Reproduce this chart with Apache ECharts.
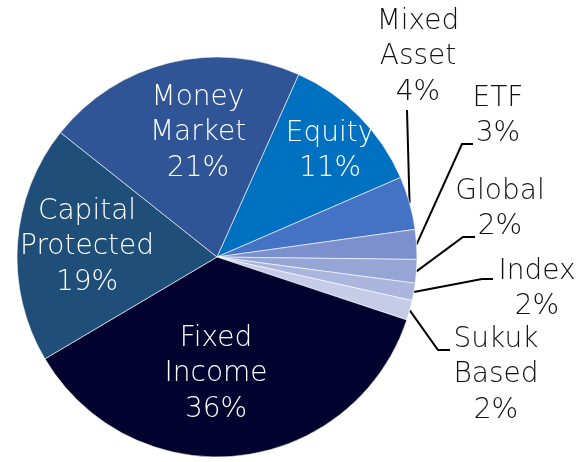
<!DOCTYPE html>
<html>
<head>
<meta charset="utf-8">
<script src="https://cdn.jsdelivr.net/npm/echarts@6/dist/echarts.min.js"></script>
<style>
  html, body { margin: 0; padding: 0; background: #fff; }
  #chart { width: 577px; height: 462px; }
</style>
</head>
<body>
<div id="chart"></div>
<script>
// fund categories, clockwise from the Money Market / Equity edge
var categories = ['Equity', 'Mixed Asset', 'ETF', 'Global', 'Index', 'Sukuk Based', 'Fixed Income', 'Capital Protected', 'Money Market'];
var shares = [11.8, 4.3, 2.4, 1.9, 1.4, 1.6, 36.4, 19.2, 21.0];
var shareLabels = ['11%', '4%', '3%', '2%', '2%', '2%', '36%', '19%', '21%'];

var colors = ['#0070C0', '#4472C4', '#7B90CC', '#94A5D6', '#AAB6DD', '#C6CCE8', '#03032F', '#1F4E79', '#2F5597'];
var outsideNames = ['Mixed Asset', 'ETF', 'Global', 'Index', 'Sukuk Based'];

// label placement (text block centre), plus leader elbow/end for outside ones
var labelPlace = {
  'Equity':            { x: 330, y: 151 },
  'Money Market':      { x: 198, y: 133 },
  'Capital Protected': { x: 87,  y: 247 },
  'Fixed Income':      { x: 216, y: 374 },
  'Mixed Asset':       { x: 418, y: 57,  line: [[407, 110], [407, 110]] },
  'ETF':               { x: 498, y: 116, line: [[462, 144], [473, 144]] },
  'Global':            { x: 500, y: 209, line: [[463, 237], [475, 237]] },
  'Index':             { x: 537, y: 289, line: [[482, 279], [493, 279]] },
  'Sukuk Based':       { x: 496, y: 375, line: [[438, 350], [450, 350]] }
};

var chart = echarts.init(document.getElementById('chart'));

var pieData = categories.map(function (name, i) {
  var outside = outsideNames.indexOf(name) >= 0;
  return {
    name: name,
    value: shares[i],
    itemStyle: { color: colors[i] },
    label: {
      position: outside ? 'outside' : 'inside',
      color: outside ? '#111' : '#fff'
    },
    labelLine: { show: outside }
  };
});

var option = {
  animation: false,
  series: [{
    type: 'pie',
    center: [217, 257],
    radius: 200,
    startAngle: 65.9,
    clockwise: true,
    avoidLabelOverlap: false,
    itemStyle: { borderColor: '#fff', borderWidth: 0.6 },
    label: {
      show: true,
      fontFamily: 'DejaVu Sans',
      fontWeight: 200,
      fontSize: 28,
      lineHeight: 35.5,
      align: 'center',
      formatter: function (p) {
        return p.name.replace(' ', '\n') + '\n' + shareLabels[p.dataIndex];
      }
    },
    labelLine: {
      length: 10,
      length2: 10,
      lineStyle: { color: '#000', width: 2 }
    },
    labelLayout: function (params) {
      var place = labelPlace[categories[params.dataIndex]];
      var res = { x: place.x, y: place.y, align: 'center', verticalAlign: 'middle' };
      if (place.line && params.labelLinePoints) {
        res.labelLinePoints = [params.labelLinePoints[0]].concat(place.line);
      }
      return res;
    },
    data: pieData
  }]
};

chart.setOption(option);
</script>
</body>
</html>
